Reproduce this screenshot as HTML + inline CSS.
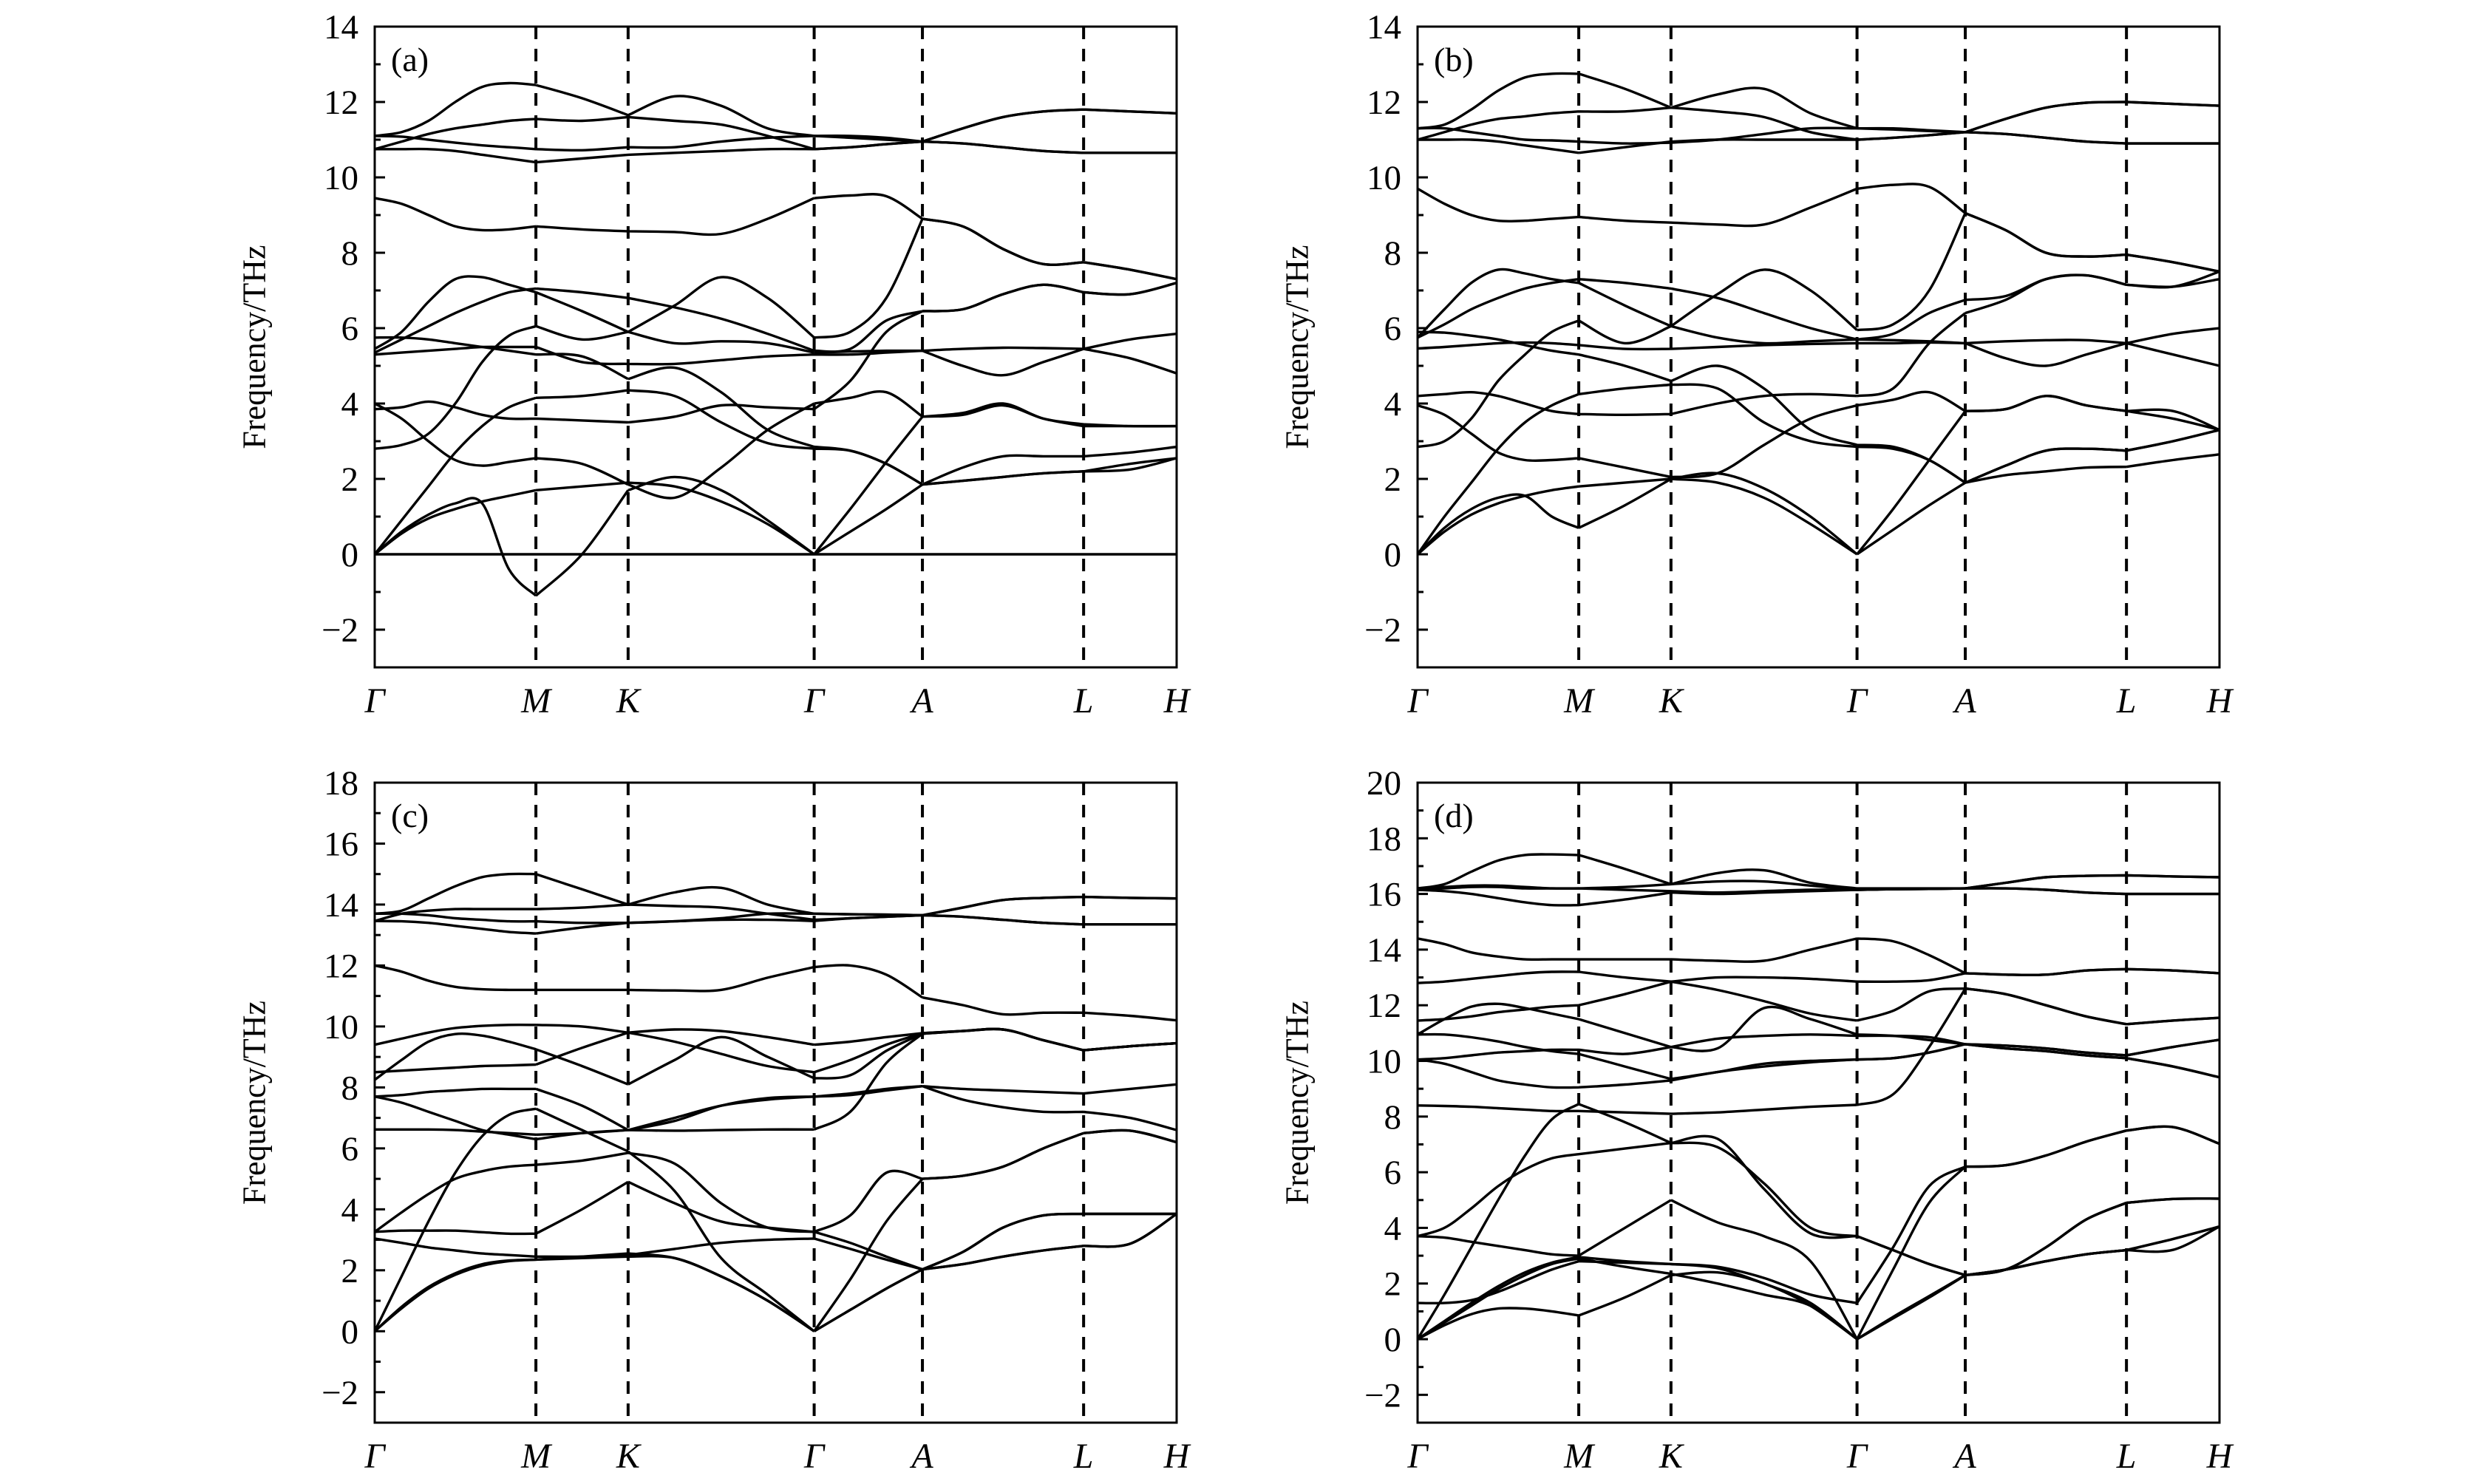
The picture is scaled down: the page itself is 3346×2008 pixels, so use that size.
<!DOCTYPE html>
<html><head><meta charset="utf-8"><title>Phonon dispersion</title>
<style>
html,body{margin:0;padding:0;background:#fff;}
svg{display:block;}
text{font-family:"Liberation Serif","DejaVu Serif",serif;fill:#000;}
</style></head>
<body>
<svg id="fig" width="3346" height="2008" viewBox="0 0 3346 2008" xmlns="http://www.w3.org/2000/svg"></svg>
<script>
// ---- shared k-path data ----
const symLabels = ['Γ','M','K','Γ','A','L','H'];
const symK = [0, 0.201, 0.316, 0.548, 0.683, 0.884, 1];
const samplesPerSeg = [6, 2, 4, 3, 4, 2];
const yTicksAB = [-2,0,2,4,6,8,10,12,14];
const yTicksC = [-2,0,2,4,6,8,10,12,14,16,18];
const yTicksD = [-2,0,2,4,6,8,10,12,14,16,18,20];

// ---- panel (a) bands ----
const bandsA = [
[11.1,11.2,11.5,12.0,12.4,12.5,12.45,12.1,11.65,12.15,11.9,11.3,11.1,11.1,11.05,10.95,11.3,11.6,11.75,11.8,11.75,11.7],
[10.75,10.95,11.15,11.3,11.4,11.5,11.55,11.5,11.6,11.5,11.4,11.1,10.75,10.8,10.88,10.95,10.9,10.8,10.7,10.65,10.65,10.65],
[11.1,11.08,11.0,10.92,10.85,10.8,10.75,10.72,10.8,10.8,10.95,11.05,11.1,11.05,11.0,10.95,11.3,11.6,11.75,11.8,11.75,11.7],
[10.75,10.75,10.75,10.7,10.6,10.5,10.4,10.5,10.6,10.65,10.7,10.75,10.75,10.8,10.88,10.95,10.9,10.8,10.7,10.65,10.65,10.65],
[9.45,9.3,9.0,8.7,8.6,8.62,8.7,8.62,8.57,8.55,8.5,8.9,9.45,9.52,9.5,8.9,8.7,8.1,7.7,7.75,7.55,7.3],
[5.45,5.9,6.7,7.3,7.35,7.15,6.95,6.45,5.9,5.6,5.65,5.6,5.35,5.38,5.4,5.4,5.45,5.48,5.47,5.45,5.7,5.85],
[5.35,5.7,6.05,6.4,6.7,6.95,7.05,6.95,6.8,6.55,6.25,5.85,5.4,5.45,6.2,6.45,6.5,6.9,7.15,6.95,6.9,7.2],
[2.8,2.9,3.2,4.0,5.1,5.8,6.05,5.7,5.9,6.6,7.35,6.8,5.75,5.9,6.8,8.9,8.7,8.1,7.7,7.75,7.55,7.3],
[5.75,5.75,5.7,5.6,5.5,5.4,5.3,5.25,4.65,4.95,4.3,3.3,2.85,2.75,2.4,1.85,2.3,2.6,2.6,2.6,2.7,2.85],
[5.3,5.35,5.4,5.45,5.5,5.5,5.5,5.1,5.05,5.05,5.15,5.25,5.3,5.3,5.35,5.4,5.0,4.75,5.1,5.45,5.2,4.8],
[3.85,3.9,4.05,3.9,3.7,3.6,3.6,3.55,3.5,3.65,3.95,3.9,3.85,4.6,5.9,6.45,6.5,6.9,7.15,6.95,6.9,7.2],
[4.0,3.6,3.0,2.5,2.35,2.45,2.55,2.4,1.85,1.5,2.3,3.3,4.0,4.15,4.3,3.65,3.7,3.95,3.6,3.4,3.4,3.4],
[0,0.9,1.8,2.7,3.4,3.9,4.15,4.2,4.35,4.2,3.5,2.95,2.8,2.75,2.4,1.85,1.95,2.05,2.15,2.2,2.25,2.55],
[0,0.6,1.05,1.35,1.35,-0.4,-1.1,0.0,1.7,2.05,1.7,0.9,0,0.6,1.2,1.85,1.95,2.05,2.15,2.2,2.4,2.55],
[0,0.55,0.95,1.2,1.4,1.55,1.7,1.8,1.9,1.8,1.4,0.8,0,1.2,2.45,3.65,3.75,4.0,3.6,3.45,3.4,3.4]
];
// ---- panel (b) bands ----
const bandsB = [
[11.3,11.4,11.8,12.3,12.65,12.75,12.75,12.35,11.85,12.2,12.35,11.7,11.3,11.3,11.25,11.2,11.55,11.85,11.98,12.0,11.95,11.9],
[11.0,11.2,11.4,11.55,11.62,11.7,11.75,11.75,11.85,11.75,11.6,11.2,11.0,11.05,11.12,11.2,11.15,11.05,10.95,10.9,10.9,10.9],
[11.3,11.3,11.2,11.1,11.0,10.98,10.95,10.9,10.92,11.0,11.15,11.3,11.3,11.27,11.23,11.2,11.55,11.85,11.98,12.0,11.95,11.9],
[11.0,11.0,11.0,10.95,10.85,10.75,10.65,10.8,10.95,11.0,11.0,11.0,11.0,11.05,11.12,11.2,11.15,11.05,10.95,10.9,10.9,10.9],
[9.7,9.3,9.0,8.85,8.85,8.9,8.95,8.85,8.8,8.75,8.75,9.2,9.7,9.8,9.75,9.05,8.6,8.0,7.9,7.95,7.75,7.5],
[5.75,6.5,7.2,7.55,7.45,7.3,7.2,6.6,6.05,5.75,5.6,5.65,5.7,5.68,5.65,5.6,5.65,5.68,5.68,5.6,5.85,6.0],
[5.75,6.1,6.5,6.8,7.05,7.2,7.3,7.2,7.05,6.8,6.4,6.0,5.7,5.85,6.4,6.75,6.85,7.3,7.4,7.15,7.1,7.3,7.5].slice(0,22),
[2.85,3.0,3.6,4.6,5.3,5.9,6.2,5.6,6.05,6.9,7.55,7.0,5.95,6.1,7.0,9.05,8.6,8.0,7.9,7.95,7.75,7.5],
[5.9,5.88,5.8,5.7,5.55,5.4,5.3,5.0,4.6,5.0,4.4,3.3,2.9,2.85,2.5,1.9,2.35,2.75,2.8,2.75,3.0,3.3],
[5.46,5.5,5.55,5.6,5.62,5.6,5.55,5.45,5.45,5.5,5.55,5.58,5.6,5.6,5.62,5.6,5.2,5.0,5.3,5.6,5.3,5.0],
[4.2,4.25,4.3,4.2,4.0,3.8,3.72,3.7,3.72,4.0,4.2,4.25,4.2,4.4,5.6,6.4,6.75,7.3,7.4,7.15,7.1,7.3],
[3.95,3.7,3.2,2.7,2.5,2.5,2.55,2.3,2.05,2.15,2.9,3.6,3.95,4.1,4.3,3.8,3.85,4.2,3.95,3.8,3.8,3.3],
[0,1.0,1.9,2.8,3.5,3.95,4.25,4.4,4.5,4.4,3.5,3.0,2.85,2.8,2.5,1.9,2.1,2.2,2.3,2.32,2.5,2.65],
[0,0.7,1.2,1.5,1.55,1.0,0.7,1.3,2.0,2.15,1.75,1.0,0,1.2,2.5,3.8,3.85,4.2,3.95,3.8,3.6,3.3],
[0,0.6,1.05,1.35,1.55,1.7,1.8,1.9,2.0,1.9,1.5,0.8,0,0.65,1.3,1.9,2.35,2.75,2.8,2.75,3.0,3.3]
];
bandsB[6][21] = 7.5;
// ---- panel (c) bands ----
const bandsC = [
[13.7,13.8,14.2,14.6,14.9,15.0,15.0,14.5,14.0,14.4,14.55,14.0,13.7,13.68,13.67,13.65,13.9,14.15,14.22,14.25,14.22,14.2],
[13.46,13.7,13.8,13.85,13.85,13.85,13.85,13.9,14.0,13.95,13.9,13.7,13.5,13.55,13.6,13.65,13.6,13.5,13.4,13.35,13.35,13.35],
[13.7,13.7,13.65,13.55,13.5,13.45,13.45,13.4,13.4,13.45,13.55,13.7,13.7,13.68,13.67,13.65,13.9,14.15,14.22,14.25,14.22,14.2],
[13.46,13.45,13.4,13.3,13.2,13.1,13.05,13.25,13.4,13.45,13.5,13.5,13.46,13.55,13.6,13.65,13.6,13.5,13.4,13.35,13.35,13.35],
[12.0,11.8,11.5,11.3,11.22,11.2,11.2,11.2,11.2,11.18,11.2,11.6,11.95,12.0,11.7,10.95,10.7,10.4,10.45,10.45,10.35,10.2],
[9.4,9.6,9.8,9.95,10.02,10.05,10.05,10.0,9.8,9.5,9.1,8.7,8.5,8.9,9.4,9.78,9.85,9.9,9.55,9.22,9.35,9.45],
[8.25,8.9,9.5,9.75,9.7,9.5,9.25,8.7,8.1,8.9,9.65,9.0,8.3,8.4,9.2,9.76,9.85,9.9,9.55,9.22,9.35,9.45],
[8.5,8.55,8.6,8.65,8.7,8.72,8.75,9.3,9.8,9.9,9.85,9.65,9.4,9.5,9.65,9.78,9.85,9.9,9.55,9.22,9.35,9.45],
[7.7,7.5,7.2,6.9,6.6,6.45,6.3,6.5,6.6,6.9,7.4,7.65,7.7,7.75,7.9,8.04,7.95,7.9,7.85,7.8,7.95,8.1],
[7.7,7.75,7.85,7.9,7.95,7.95,7.95,7.4,6.6,7.0,7.4,7.6,7.7,7.8,7.95,8.04,7.6,7.35,7.2,7.2,7.0,6.6],
[6.62,6.62,6.62,6.6,6.55,6.5,6.45,6.5,6.6,6.58,6.6,6.62,6.62,7.2,8.8,9.76,9.85,9.9,9.55,9.22,9.35,9.45],
[0,1.8,3.6,5.2,6.4,7.1,7.3,6.6,5.9,4.6,2.4,1.2,0,1.7,3.6,5.0,5.1,5.4,6.0,6.5,6.58,6.2],
[3.26,3.9,4.5,5.0,5.25,5.4,5.46,5.6,5.85,5.5,4.2,3.4,3.26,3.8,5.2,5.0,5.1,5.4,6.0,6.5,6.58,6.2],
[3.26,3.3,3.3,3.3,3.25,3.2,3.2,4.0,4.9,4.2,3.6,3.4,3.26,2.9,2.45,2.03,2.6,3.4,3.8,3.85,3.85,3.85],
[3.04,2.9,2.75,2.65,2.55,2.5,2.45,2.45,2.5,2.7,2.9,3.0,3.04,2.7,2.35,2.03,2.2,2.45,2.65,2.8,2.87,3.85],
[0,0.75,1.4,1.85,2.15,2.3,2.35,2.4,2.45,2.4,1.8,1.0,0,0.7,1.4,2.03,2.2,2.45,2.65,2.8,2.87,3.85],
[0,0.8,1.45,1.9,2.2,2.32,2.35,2.45,2.55,2.4,1.8,1.0,0,0.7,1.4,2.03,2.6,3.4,3.8,3.85,3.85,3.85]
];
// ---- panel (d) bands ----
const bandsD = [
[16.2,16.35,16.8,17.2,17.4,17.42,17.4,16.9,16.35,16.75,16.85,16.4,16.2,16.2,16.2,16.2,16.4,16.6,16.65,16.67,16.63,16.6],
[16.15,16.2,16.25,16.25,16.2,16.2,16.2,16.25,16.35,16.45,16.45,16.3,16.15,16.17,16.18,16.2,16.2,16.15,16.05,16.0,16.0,16.0],
[16.2,16.25,16.3,16.3,16.25,16.2,16.2,16.15,16.1,16.05,16.1,16.15,16.15,16.17,16.18,16.2,16.4,16.6,16.65,16.67,16.63,16.6],
[16.15,16.1,16.0,15.85,15.7,15.6,15.6,15.8,16.05,16.0,16.05,16.1,16.15,16.17,16.18,16.2,16.2,16.15,16.05,16.0,16.0,16.0],
[14.4,14.2,13.9,13.75,13.65,13.65,13.65,13.65,13.65,13.6,13.6,14.0,14.4,14.3,13.8,13.15,13.1,13.1,13.25,13.3,13.25,13.15],
[12.8,12.85,12.95,13.05,13.15,13.2,13.2,13.0,12.85,13.0,13.0,12.95,12.85,12.85,12.9,13.15,13.1,13.1,13.25,13.3,13.25,13.15],
[11.45,11.5,11.6,11.75,11.85,11.95,12.0,12.4,12.85,12.55,12.15,11.7,11.45,11.8,12.5,12.6,12.4,12.0,11.6,11.32,11.45,11.55],
[10.95,11.5,11.95,12.05,11.9,11.7,11.5,11.0,10.5,10.45,11.9,11.5,10.95,10.9,10.75,10.6,10.55,10.45,10.3,10.2,10.5,10.76],
[10.95,10.95,10.85,10.7,10.5,10.35,10.25,9.8,9.35,9.6,9.9,10.0,10.05,10.1,10.3,10.6,10.45,10.35,10.2,10.1,9.8,9.41],
[10.05,10.1,10.2,10.3,10.35,10.4,10.4,10.25,10.5,10.8,10.9,10.95,10.9,10.9,10.85,10.6,10.55,10.45,10.3,10.2,10.5,10.76],
[10.05,9.9,9.6,9.3,9.15,9.05,9.05,9.15,9.3,9.6,9.8,9.95,10.05,10.1,10.3,10.6,10.45,10.35,10.2,10.1,9.8,9.41],
[8.4,8.38,8.35,8.3,8.25,8.2,8.2,8.15,8.1,8.15,8.25,8.35,8.42,8.8,10.5,12.6,12.4,12.0,11.6,11.32,11.45,11.55],
[0,1.6,3.3,5.0,6.6,7.9,8.45,7.8,7.05,7.2,5.4,3.8,3.7,3.2,2.7,2.3,2.5,2.8,3.05,3.2,3.6,4.05],
[3.7,4.0,4.7,5.5,6.1,6.5,6.65,6.85,7.05,6.9,5.6,4.0,3.7,3.2,2.7,2.3,2.5,2.8,3.05,3.2,3.6,4.05],
[3.7,3.65,3.5,3.35,3.2,3.05,3.0,4.0,5.0,4.2,3.7,2.8,0,2.5,4.9,6.2,6.25,6.6,7.1,7.5,7.62,7.02],
[1.3,1.3,1.4,1.7,2.1,2.5,2.8,2.75,2.7,2.6,2.2,1.6,1.3,3.3,5.5,6.2,6.25,6.6,7.1,7.5,7.62,7.02],
[0,0.5,0.9,1.1,1.1,1.0,0.85,1.5,2.3,2.4,2.0,1.2,0,0.8,1.55,2.3,2.5,3.3,4.3,4.9,5.04,5.05],
[0,0.6,1.2,1.8,2.3,2.7,2.9,2.6,2.35,2.0,1.6,1.2,0,0.75,1.5,2.3,2.5,2.8,3.05,3.2,3.21,4.05],
[0,0.65,1.3,1.9,2.4,2.75,2.95,2.8,2.7,2.55,2.0,1.3,0,0.75,1.5,2.3,2.5,3.3,4.3,4.9,5.04,5.05]
];
// L-H last point fix for d bands with 7 A-L/L-H values (ensure length 22)
bandsD.forEach(b => { while (b.length > 22) b.splice(19,1); });

const panels = [
  {id:'a', left:507, top:36,  w:1085, h:867, ymin:-3, ymax:14, ticks:yTicksAB, bands:bandsA},
  {id:'b', left:1918, top:36, w:1085, h:867, ymin:-3, ymax:14, ticks:yTicksAB, bands:bandsB},
  {id:'c', left:507, top:1059, w:1085, h:866, ymin:-3, ymax:18, ticks:yTicksC, bands:bandsC},
  {id:'d', left:1918, top:1059, w:1085, h:866, ymin:-3, ymax:20, ticks:yTicksD, bands:bandsD}
];

const NS = 'http://www.w3.org/2000/svg';
const svg = document.getElementById('fig');
function mk(tag, attrs, parent) {
  const e = document.createElementNS(NS, tag);
  for (const k in attrs) e.setAttribute(k, attrs[k]);
  parent.appendChild(e);
  return e;
}
// k grid
const kGrid = [];
const segIdx = [];
let idx = 0;
for (let s = 0; s < samplesPerSeg.length; s++) {
  const n = samplesPerSeg[s];
  const start = idx;
  for (let j = (s === 0 ? 0 : 1); j <= n; j++) {
    kGrid.push(symK[s] + (symK[s+1] - symK[s]) * j / n);
  }
  idx = start + n;
  segIdx.push([start, idx]);
}
function crPath(pts) {
  let d = 'M' + pts[0][0].toFixed(1) + ',' + pts[0][1].toFixed(1);
  for (let i = 0; i < pts.length - 1; i++) {
    const p0 = pts[i-1] || pts[i], p1 = pts[i], p2 = pts[i+1], p3 = pts[i+2] || pts[i+1];
    const c1x = p1[0] + (p2[0]-p0[0])/6, c1y = p1[1] + (p2[1]-p0[1])/6;
    const c2x = p2[0] - (p3[0]-p1[0])/6, c2y = p2[1] - (p3[1]-p1[1])/6;
    d += 'C' + c1x.toFixed(1)+','+c1y.toFixed(1)+' '+c2x.toFixed(1)+','+c2y.toFixed(1)+' '+p2[0].toFixed(1)+','+p2[1].toFixed(1);
  }
  return d;
}

panels.forEach(p => {
  const g = mk('g', {}, svg);
  
  
  const xS = k => p.left + k * p.w;
  const yS = f => p.top + (p.ymax - f) / (p.ymax - p.ymin) * p.h;
  const clipId = 'clip-' + p.id;
  const cp = mk('clipPath', {id: clipId}, g);
  mk('rect', {x:p.left, y:p.top, width:p.w, height:p.h}, cp);

  // zero line for panel a (flat imaginary-free band drawn as line at 0)
  // high-symmetry dashed lines
  for (let i = 1; i < symK.length - 1; i++) {
    const l = mk('line', {x1:xS(symK[i]), x2:xS(symK[i]), y1:p.top, y2:p.top+p.h, stroke:'#000', 'stroke-width':4, 'stroke-dasharray':'17 13'}, g);
    
    
  }
  // bands
  const bg = mk('g', {'clip-path':'url(#'+clipId+')', fill:'none', stroke:'#000', 'stroke-width':3.4, 'stroke-linejoin':'round'}, g);
  
  
  p.bands.forEach((band, bi) => {
    let d = '';
    segIdx.forEach(([a, b]) => {
      const pts = [];
      for (let i = a; i <= b; i++) pts.push([xS(kGrid[i]), yS(band[i])]);
      d += crPath(pts);
    });
    const path = mk('path', {d: d}, bg);
    
    
  });
  if (p.id === 'a') {
    const z = mk('line', {x1:p.left, x2:p.left+p.w, y1:yS(0), y2:yS(0), stroke:'#000', 'stroke-width':3.4}, g);
    
    
  }
  // frame
  const fr = mk('rect', {x:p.left, y:p.top, width:p.w, height:p.h, fill:'none', stroke:'#000', 'stroke-width':3}, g);
  
  
  // ticks
  for (let v = p.ymin; v <= p.ymax; v++) {
    const major = p.ticks.indexOf(v) >= 0;
    const t = mk('line', {x1:p.left, x2:p.left + (major ? 14 : 8), y1:yS(v), y2:yS(v), stroke:'#000', 'stroke-width':3}, g);
    
    
  }
  p.ticks.forEach(v => {
    const tx = mk('text', {x:p.left - 22, y:yS(v) + 16, 'text-anchor':'end', 'font-size':47}, g);
    tx.textContent = v < 0 ? '\u2212' + Math.abs(v) : String(v);
    
    
  });
  // x labels
  symLabels.forEach((s, i) => {
    const tx = mk('text', {x:xS(symK[i]), y:p.top + p.h + 61, 'text-anchor':'middle', 'font-size':48, 'font-style':'italic'}, g);
    tx.textContent = s;
    
    
  });
  // y title
  const cx = p.left - 163, cy = p.top + p.h / 2;
  const yt = mk('text', {x:cx, y:cy, 'text-anchor':'middle', 'font-size':44, transform:'rotate(-90 '+cx+' '+cy+')', 'dominant-baseline':'central'}, g);
  yt.textContent = 'Frequency/THz';
  
  
  // panel label
  const pl = mk('text', {x:p.left + 22, y:p.top + 60, 'font-size':46}, g);
  pl.textContent = '(' + p.id + ')';
  
  
});
</script>
</body></html>
